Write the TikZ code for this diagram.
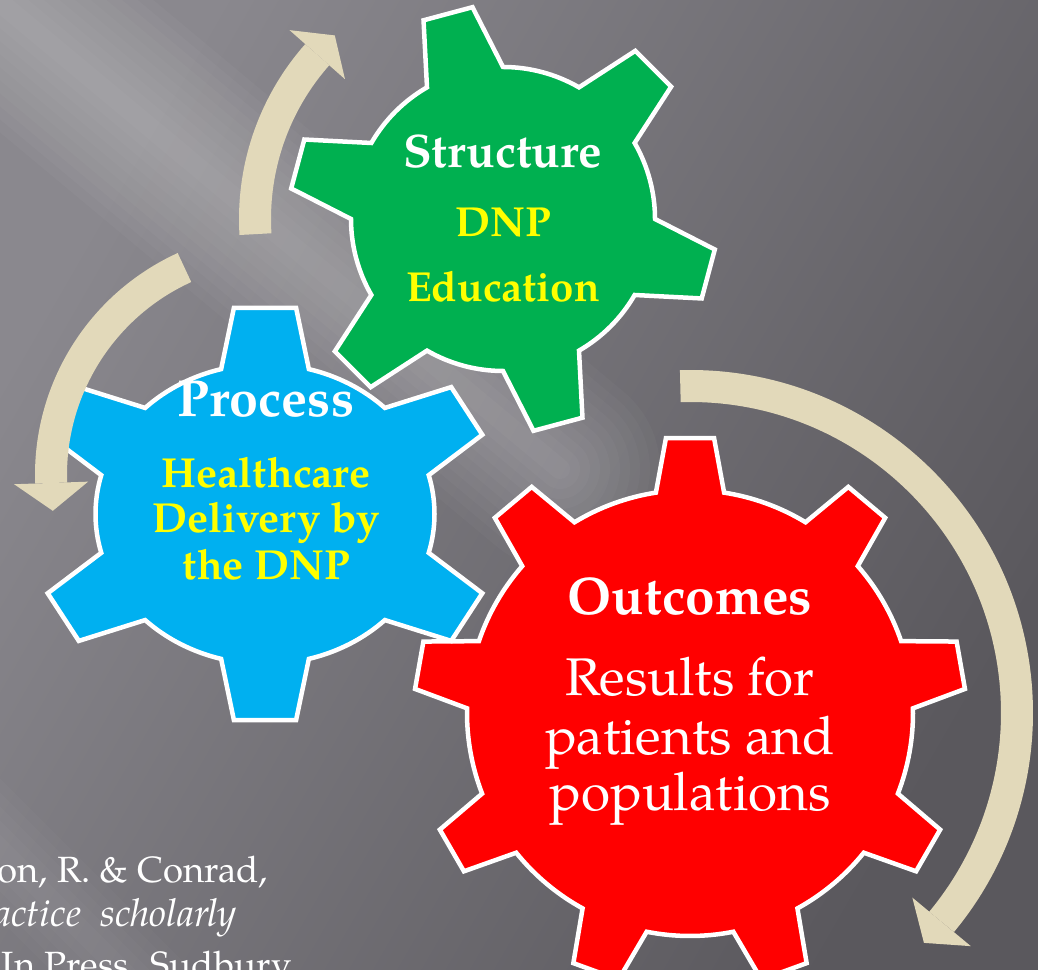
\documentclass[tikz,border=0pt]{standalone}
\usepackage{fontspec}
\setmainfont{TeX Gyre Pagella}
\usetikzlibrary{calc}

\definecolor{geargreen}{HTML}{00B050}
\definecolor{gearblue}{HTML}{00B0F0}
\definecolor{gearred}{HTML}{FF0000}
\definecolor{textyellow}{HTML}{FFFF00}
\definecolor{cyclebeige}{HTML}{E2D9BA}
\definecolor{bglight}{HTML}{8A888E}
\definecolor{bgdark}{HTML}{5A585D}

% teeth, first tooth angle, root radius, tip radius, half base angle, half top angle
\newcommand{\gearpath}[6]{({#2-#5}:#3)
  \foreach \k in {1,...,#1}{
    -- ({#2+(\k-1)*360/#1-#6}:#4) -- ({#2+(\k-1)*360/#1+#6}:#4)
    -- ({#2+(\k-1)*360/#1+#5}:#3)
    arc[start angle={#2+(\k-1)*360/#1+#5}, end angle={#2+\k*360/#1-#5}, radius=#3]
  } -- cycle}

\begin{document}
\begin{tikzpicture}[x=1pt,y=1pt,
gear/.style={draw=white, line width=4.5pt, line join=miter},
cyclebody/.style={draw=cyclebeige, line width=32pt},
head/.style={fill=cyclebeige},
boldlabel/.style={anchor=base, inner sep=0pt, font=\bfseries\fontsize{#1}{#1}\selectfont},
plainlabel/.style={anchor=base, inner sep=0pt, text=white, font=\fontsize{#1}{#1}\selectfont},
cite/.style={anchor=base east, inner sep=0pt, text=white, font=\fontsize{#1}{#1}\selectfont}]
\useasboundingbox (0,0) rectangle (1038,969);
\clip (0,0) rectangle (1038,969);
\shade[left color=bglight, right color=bgdark, shading angle=60] (0,0) rectangle (1038,969);
% light streaks
\foreach \w in {20,40,...,200}
  \draw[white, opacity=0.028, line width=\w, line cap=round] (-40,1000) -- (560,500);
\foreach \w in {20,40,...,100}
  \draw[white, opacity=0.02, line width=\w] (-60,180) -- (200,-80);

\coordinate (green) at (503,750);
\coordinate (blue) at (265,455);
\coordinate (red) at (690,256);

% gears
\begin{scope}[shift={(red)}]
\draw[gear, fill=gearred] \gearpath{9}{90}{223}{276}{8.8}{5};
\end{scope}
\begin{scope}[shift={(green)}]
\draw[gear, fill=geargreen] \gearpath{6}{105}{152}{214}{15}{6.8};
\end{scope}
\begin{scope}[shift={(blue)}, xscale=1.13]
\draw[gear, fill=gearblue] \gearpath{6}{90}{150}{208}{15}{7.6};
\end{scope}

% cycle arrows
\begin{scope}[shift={(green)}]
\draw[cyclebody] (183.5:248) arc[start angle=183.5, end angle=138.5, radius=248];
\fill[head] (138.5:285) -- (132.5:249) -- (138.5:211) -- cycle;
\end{scope}
\begin{scope}[shift={(279,494)}]
\draw[cyclebody] (114.5:228) arc[start angle=114.5, end angle=182, radius=228];
\fill[head] (182:265) -- (189:229) -- (182:191) -- cycle;
\end{scope}
\begin{scope}[shift={(red)}]
\draw[cyclebody] (91.7:327) arc[start angle=91.7, end angle=-39.7, radius=327];
\fill[head] (-39.7:365) -- (-44.5:328) -- (-39.7:289) -- cycle;
\end{scope}

% labels
\node (structure) [boldlabel=47, text=white] at (503,801) {Structure};
\node (dnp) [boldlabel=42, text=textyellow] at (503,732) {DNP};
\node (education) [boldlabel=42, text=textyellow] at (503,667) {Education};

\node (process) [boldlabel=52, text=white] at (266,552) {Process};
\node (healthcare) [boldlabel=42, text=textyellow] at (266,481) {Healthcare};
\node (delivery) [boldlabel=42, text=textyellow] at (266,436) {Delivery by};
\node (thednp) [boldlabel=42, text=textyellow] at (266,389) {the DNP};

\node (outcomes) [boldlabel=53, text=white] at (690,354) {Outcomes};
\node (results) [plainlabel=53] at (690,273) {Results for};
\node (patients) [plainlabel=53] at (690,214) {patients and};
\node (populations) [plainlabel=53] at (690,158) {populations};

% citation, cut by the frame
\node (cite1) [cite=36.5] at (268,87) {on, R. \& Conrad,};
\node (cite2) [cite=38.5] at (237,43) {\itshape actice~ scholarly};
\node (cite3) [cite=36.5] at (297,-8) {In Press. Sudbury,};
\end{tikzpicture}
\end{document}
